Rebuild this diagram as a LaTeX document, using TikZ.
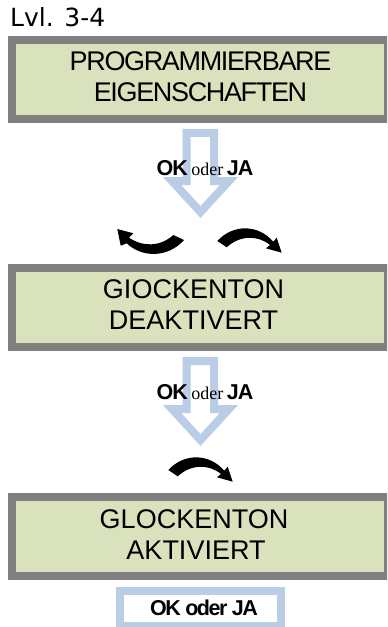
\documentclass[tikz,border=0pt]{standalone}
\usepackage{fontspec}
\setmainfont{Liberation Sans}
\newfontfamily\lvlfont{DejaVu Sans}
\newfontfamily\oderfont{Liberation Serif}
\definecolor{lcdgreen}{HTML}{D9E2BD}
\definecolor{lcdframe}{HTML}{808080}
\definecolor{keyblue}{HTML}{B9CDE6}
\tikzset{
  x=1bp,y=-1bp,
  lcdbox/.style={draw=lcdframe,line width=8bp,fill=lcdgreen,anchor=north west,minimum width=376bp,minimum height=79bp,inner sep=0pt},
  lcdtext/.style={align=center,text=black,inner sep=0pt},
  hollowarrow/.style={draw=keyblue,line width=8bp,miter limit=10,fill=none},
  turnarrow/.style={fill=black,draw=none},
  keytext/.style={inner sep=0pt,font=\fontsize{21.5bp}{24bp}\selectfont\bfseries}
}
\newcommand{\lcdfont}{\fontsize{27bp}{31bp}\selectfont}
\newcommand{\oderword}{{\oderfont\mdseries\fontsize{18bp}{20bp}\selectfont oder}}
\begin{document}
\begin{tikzpicture}
\useasboundingbox (0,0) rectangle (387,627);
\clip (0,0) rectangle (387,627);
\fill[white] (0,0) rectangle (387,627);
\node[anchor=base west,inner sep=0pt,font=\fontsize{25bp}{28bp}\selectfont\lvlfont] (lvl) at (10,27) {Lvl. 3-4};
% frames
\node[lcdbox] (b1) at (8,36) {};
\node[lcdbox] (b2) at (8,264) {};
\node[lcdbox] (b3) at (8,493) {};
\node[lcdtext,font=\lcdfont\addfontfeature{LetterSpace=-5}] (t1) at (200.5,77) {PROGRAMMIERBARE\\EIGENSCHAFTEN};
\node[lcdtext,font=\lcdfont] (t2) at (193.5,304.5) {GIOCKENTON\\DEAKTIVERT};
\node[lcdtext,font=\lcdfont] (t3) at (194,534.5) {GLOCKENTON\\\hspace*{4bp}AKTIVIERT};
% hollow arrows
\draw[hollowarrow] (186.5,133)--(214,133)--(214,181)--(229,181)--(200.5,212)--(172,181)--(186.5,181)--cycle;
\draw[hollowarrow] (186.5,361)--(214,361)--(214,409)--(229,409)--(200.5,440)--(172,409)--(186.5,409)--cycle;
% labels
\node[keytext,anchor=base] (k1) at (205,176) {\addfontfeature{LetterSpace=-5}OK\,\oderword\,JA};
\node[keytext,anchor=base] (k2) at (205,399) {\addfontfeature{LetterSpace=-5}OK\,\oderword\,JA};
% key
\node[draw=keyblue,line width=8bp,anchor=north west,minimum width=161bp,minimum height=35bp,inner sep=0pt] (key) at (116,587) {};
\node[keytext,anchor=base] (k3) at (204,615) {\addfontfeature{LetterSpace=-7}OK oder JA};
% turn arrows
\fill[turnarrow] (117.3,229)--(133.3,233.3)--(129,237.7) .. controls (143,247) and (160,247) .. (173.3,235)--(184,240) .. controls (168,258) and (142,258) .. (126.7,243.3)--(120.7,245.7)--cycle;
\fill[turnarrow] (281.7,252.7)--(266,248.3)--(270,245) .. controls (258,235) and (240,235) .. (226.7,247.3)--(217.3,241) .. controls (233,224) and (258,224) .. (273.3,241.7)--(276.7,237.7)--cycle;
\fill[turnarrow] (232.7,481.7)--(217,477.3)--(221,474) .. controls (209,464) and (191,464) .. (177.7,476.3)--(168.3,470) .. controls (184,453) and (209,453) .. (224.3,470.7)--(227.7,466.7)--cycle;
\end{tikzpicture}
\end{document}
